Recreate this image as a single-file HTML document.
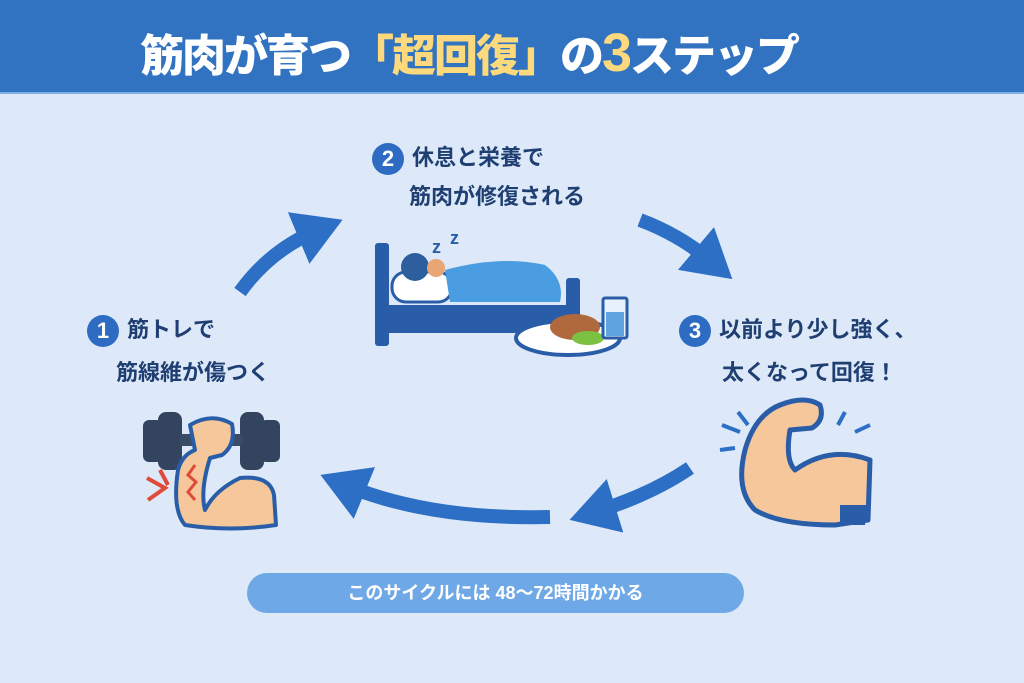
<!DOCTYPE html>
<html><head><meta charset="utf-8"><style>
body{margin:0;width:1024px;height:683px;overflow:hidden;background:#dde9f8;font-family:"Liberation Sans","Noto Sans CJK JP",sans-serif;}
.hd{position:absolute;left:0;top:0;width:1024px;height:92px;background:#3273c1;border-bottom:2px solid #7fb0e6}
.t{position:absolute;left:140px;top:20px;font-size:44px;font-weight:900;color:#fff;white-space:nowrap;letter-spacing:-2px}
.y{color:#fbd97c}
.lb{position:absolute;font-size:22px;font-weight:700;color:#1f3f72;white-space:nowrap;line-height:40px}
.n{display:inline-block;width:32px;height:32px;border-radius:50%;background:#2d6cc2;color:#fff;text-align:center;line-height:32px;font-size:22px;margin-right:8px;vertical-align:middle}
.pill{position:absolute;left:247px;top:573px;width:497px;height:40px;border-radius:20px;background:#6ea8e6;color:#fff;font-size:18px;font-weight:700;text-align:center;line-height:40px}
</style></head><body>
<div class="hd"><div class="t">筋肉が育つ<span class="y">「超回復」</span>の<span class="y" style="font-size:54px">3</span>ステップ</div></div>
<div class="lb" style="left:87px;top:310px"><span class="n">1</span>筋トレで</div>
<div class="lb" style="left:116px;top:353px">筋線維が傷つく</div>
<div class="lb" style="left:372px;top:138px"><span class="n">2</span>休息と栄養で</div>
<div class="lb" style="left:409px;top:177px">筋肉が修復される</div>
<div class="lb" style="left:679px;top:310px"><span class="n">3</span>以前より少し強く、</div>
<div class="lb" style="left:722px;top:353px">太くなって回復！</div>
<div class="pill">このサイクルには 48〜72時間かかる</div>
<svg width="1024" height="683" style="position:absolute;left:0;top:0">
<defs><marker id="a" markerWidth="4" markerHeight="4" refX="1.5" refY="2" orient="auto"><path d="M0,0L3.4,2L0,4z" fill="#2d6fc4"/></marker></defs>
<g fill="none" stroke="#2d6fc4" stroke-width="14">
<path d="M240,292 Q270,250 318,230" marker-end="url(#a)"/>
<path d="M640,220 Q680,235 712,262" marker-end="url(#a)"/>
<path d="M690,468 Q650,495 595,512" marker-end="url(#a)"/>
<path d="M550,517 Q430,520 345,485" marker-end="url(#a)"/>
</g>
<rect x="375" y="243" width="14" height="103" rx="3" fill="#2a5da8"/>
<rect x="566" y="278" width="14" height="68" rx="3" fill="#2a5da8"/>
<rect x="389" y="305" width="177" height="28" fill="#2a5da8"/>
<rect x="392" y="272" width="60" height="30" rx="14" fill="#fff" stroke="#2a5da8" stroke-width="3"/>
<circle cx="415" cy="267" r="14" fill="#2d5f9e"/>
<circle cx="436" cy="268" r="9" fill="#e8a673"/>
<path d="M445,270 Q500,255 545,265 Q565,280 560,302 L450,302Z" fill="#4a9de0"/>
<text x="432" y="253" font-size="18" font-weight="700" fill="#2a5da8">z</text>
<text x="450" y="244" font-size="18" font-weight="700" fill="#2a5da8">z</text>
<ellipse cx="568" cy="338" rx="52" ry="17" fill="#fff" stroke="#2a5da8" stroke-width="4"/>
<ellipse cx="575" cy="327" rx="25" ry="13" fill="#b0683d"/>
<ellipse cx="588" cy="338" rx="16" ry="7" fill="#7cc242"/>
<rect x="603" y="298" width="24" height="40" rx="2" fill="#e8f2fc" stroke="#2a5da8" stroke-width="3"/>
<rect x="606" y="312" width="18" height="24" fill="#5fa3e0"/>
<rect x="143" y="420" width="20" height="42" rx="6" fill="#33445f"/>
<rect x="158" y="412" width="24" height="58" rx="8" fill="#33445f"/>
<rect x="240" y="412" width="24" height="58" rx="8" fill="#33445f"/>
<rect x="260" y="420" width="20" height="42" rx="6" fill="#33445f"/>
<rect x="180" y="434" width="62" height="12" fill="#3a4b66"/>
<path d="M190,425 Q212,412 232,424 Q236,445 222,455 L210,458 Q200,490 205,510 Q215,490 240,478 Q270,475 274,495 L276,525 Q230,532 185,525 Q172,510 178,470 Q182,455 195,450 Z" fill="#f6c79b" stroke="#2a5da8" stroke-width="4" stroke-linejoin="round"/>
<path d="M195,465 L188,475 L196,482 L188,492 L195,500" fill="none" stroke="#e04a3a" stroke-width="3"/>
<path d="M147,478 L165,488 L148,500 M160,470 L168,485" fill="none" stroke="#e04a3a" stroke-width="4"/>
<path d="M780,405 Q805,395 820,405 Q825,420 812,428 L790,430 Q785,460 795,470 Q830,445 870,460 L868,520 L835,525 Q780,525 755,510 Q735,490 745,450 Q755,415 780,405Z" fill="#f6c79b" stroke="#2a5da8" stroke-width="5" stroke-linejoin="round"/>
<path d="M840,505 L868,505 L865,525 L840,525Z" fill="#2a5da8"/>
<g stroke="#2d6fc4" stroke-width="4"><path d="M738,412 L748,425 M722,425 L740,432 M720,450 L735,448 M845,412 L838,425 M870,425 L855,432"/></g>
</svg>
</body></html>
